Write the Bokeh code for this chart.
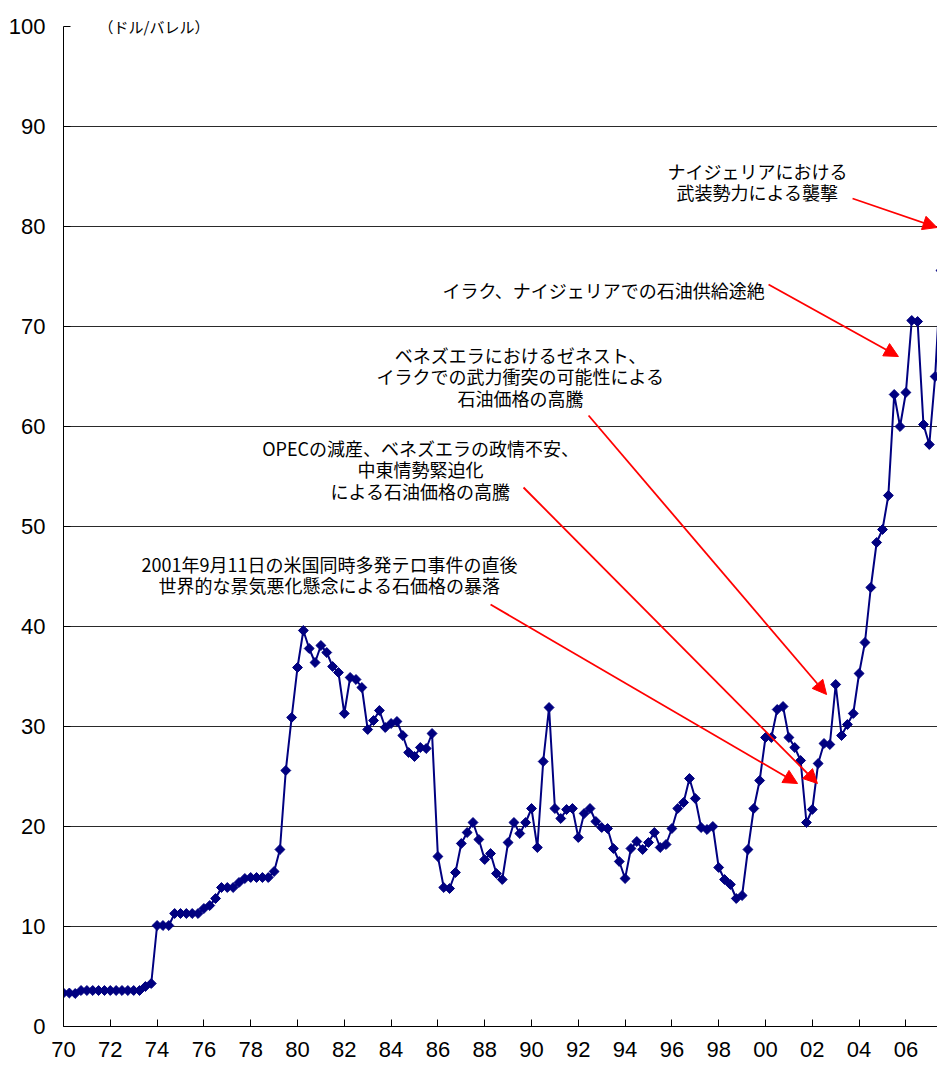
from bokeh.plotting import figure
from bokeh.models import Range1d, FixedTicker, Arrow, NormalHead, ColumnDataSource, Label
from bokeh.core.properties import value
from bokeh.embed import file_html
from bokeh.resources import INLINE

# Quarterly crude oil price (USD/barrel), 1970Q1 .. 2007Q3
years = list(range(1970, 2008))
prices = [
    3.35, 3.35, 3.3, 3.6,      # 1970
    3.6, 3.6, 3.6, 3.6,        # 1971
    3.6, 3.6, 3.6, 3.6,        # 1972
    3.6, 3.6, 4.0, 4.3,        # 1973
    10.1, 10.1, 10.1, 11.3,    # 1974
    11.3, 11.3, 11.3, 11.3,    # 1975
    11.8, 12.1, 12.8, 13.9,    # 1976
    13.9, 13.9, 14.4, 14.8,    # 1977
    14.9, 14.9, 14.9, 14.9,    # 1978
    15.5, 17.7, 25.6, 30.9,    # 1979
    35.9, 39.6, 37.8, 36.4,    # 1980
    38.1, 37.4, 36.0, 35.4,    # 1981
    31.3, 34.9, 34.7, 33.9,    # 1982
    29.7, 30.6, 31.6, 29.9,    # 1983
    30.3, 30.5, 29.1, 27.4,    # 1984
    27.0, 27.9, 27.8, 29.3,    # 1985
    17.0, 13.9, 13.8, 15.4,    # 1986
    18.3, 19.4, 20.4, 18.7,    # 1987
    16.7, 17.3, 15.3, 14.7,    # 1988
    18.4, 20.4, 19.3, 20.4,    # 1989
    21.8, 17.9, 26.5, 31.9,    # 1990
    21.8, 20.8, 21.7, 21.8,    # 1991
    18.9, 21.3, 21.8, 20.5,    # 1992
    19.9, 19.8, 17.8, 16.5,    # 1993
    14.8, 17.8, 18.5, 17.7,    # 1994
    18.4, 19.4, 17.9, 18.2,    # 1995
    19.8, 21.8, 22.4, 24.8,    # 1996
    22.8, 19.9, 19.7, 20.0,    # 1997
    15.9, 14.7, 14.2, 12.8,    # 1998
    13.1, 17.7, 21.8, 24.6,    # 1999
    28.9, 28.9, 31.7, 32.0,    # 2000
    28.9, 27.9, 26.6, 20.4,    # 2001
    21.7, 26.3, 28.3, 28.2,    # 2002
    34.2, 29.1, 30.2, 31.3,    # 2003
    35.3, 38.4, 43.9, 48.4,    # 2004
    49.7, 53.1, 63.2, 60.0,    # 2005
    63.4, 70.6, 70.5, 60.2,    # 2006
    58.2, 65.0, 75.6,          # 2007
]
quarter_year = [y for y in years for q in range(4)][:len(prices)]
quarter_num = [q for y in years for q in range(4)][:len(prices)]

tick_years = [1970, 1972, 1974, 1976, 1978, 1980, 1982, 1984, 1986, 1988,
              1990, 1992, 1994, 1996, 1998, 2000, 2002, 2004, 2006]
tick_labels = ["70", "72", "74", "76", "78", "80", "82", "84", "86", "88",
               "90", "92", "94", "96", "98", "00", "02", "04", "06"]
y_ticks = [0, 10, 20, 30, 40, 50, 60, 70, 80, 90, 100]
grid_ticks = [10, 20, 30, 40, 50, 60, 70, 80, 90]

unit_label = "（ドル/バレル）"

# annotation texts (lines) and their anchor points in data coordinates
notes = [
    (["ナイジェリアにおける", "武装勢力による襲撃"], 1999.66, 85.6),
    (["イラク、ナイジェリアでの石油供給途絶"], 1993.08, 73.7),
    (["ベネズエラにおけるゼネスト、", "イラクでの武力衝突の可能性による", "石油価格の高騰"], 1989.53, 67.2),
    (["OPECの減産、ベネズエラの政情不安、", "中東情勢緊迫化", "による石油価格の高騰"], 1985.26, 57.9),
    (["2001年9月11日の米国同時多発テロ事件の直後", "世界的な景気悪化懸念による石価格の暴落"], 1981.37, 46.3),
]
line_step = 2.15

arrows = [
    (2003.72, 82.8, 2007.33, 79.9),
    (2000.13, 74.2, 2005.68, 67.0),
    (1992.44, 61.1, 2002.61, 33.2),
    (1989.66, 53.9, 2002.22, 24.3),
    (1988.25, 42.2, 2001.37, 24.3),
]

x = [y + q / 4 for y, q in zip(quarter_year, quarter_num)]
src = ColumnDataSource(dict(x=x, y=prices))

p = figure(width=937, height=1067,
           output_backend="svg", toolbar_location=None,
           x_range=Range1d(1970, 1970 + 874 / 23.4), y_range=Range1d(0, 101),
           min_border_left=63, min_border_right=0, min_border_top=16, min_border_bottom=41)
p.outline_line_color = None
p.background_fill_color = "white"
p.border_fill_color = "white"

p.xgrid.visible = False
p.ygrid.ticker = FixedTicker(ticks=grid_ticks)
p.ygrid.grid_line_color = "#2a2a2a"
p.ygrid.grid_line_width = 1

for ax in (p.xaxis[0], p.yaxis[0]):
    ax.axis_line_color = "black"
    ax.axis_line_width = 1
    ax.major_tick_in = 7
    ax.major_tick_out = 0
    ax.minor_tick_line_color = None
    ax.major_tick_line_color = "black"
    ax.major_label_text_font = "Liberation Sans"
    ax.major_label_text_font_size = "22px"
    ax.major_label_text_color = "black"

p.xaxis.ticker = FixedTicker(ticks=tick_years)
p.xaxis.major_label_overrides = dict(zip(tick_years, tick_labels))
p.xaxis.major_label_standoff = 15
p.yaxis.ticker = FixedTicker(ticks=y_ticks)
p.yaxis.major_label_standoff = 18
p.yaxis.bounds = (0, 100)

p.line("x", "y", source=src, line_color="#000080", line_width=2)
p.scatter("x", "y", source=src, marker="square", size=7, angle=0.7854,
          fill_color="#000080", line_color="#000080", line_width=1)

tx, ty, tt = [], [], []
for lines, cx, cy in notes:
    for k, s in enumerate(lines):
        tx.append(cx)
        ty.append(cy - k * line_step)
        tt.append(s)
p.text(x="x", y="y", text="text", source=ColumnDataSource(dict(x=tx, y=ty, text=tt)),
       text_font=value("Noto Sans CJK JP"), text_font_size="18px", text_color="black",
       text_align="center", text_baseline="middle")

for xs, ys, xe, ye in arrows:
    p.add_layout(Arrow(end=NormalHead(size=14, fill_color="red", line_color="red", line_width=1),
                       x_start=xs, y_start=ys, x_end=xe, y_end=ye,
                       line_color="red", line_width=1.8))

p.add_layout(Label(x=1971.5, y=100, text=unit_label, text_font="Noto Sans CJK JP",
                   text_font_size="15px", text_baseline="middle", text_align="left",
                   text_color="black"))

open("out.html", "w").write(file_html(p, INLINE))
